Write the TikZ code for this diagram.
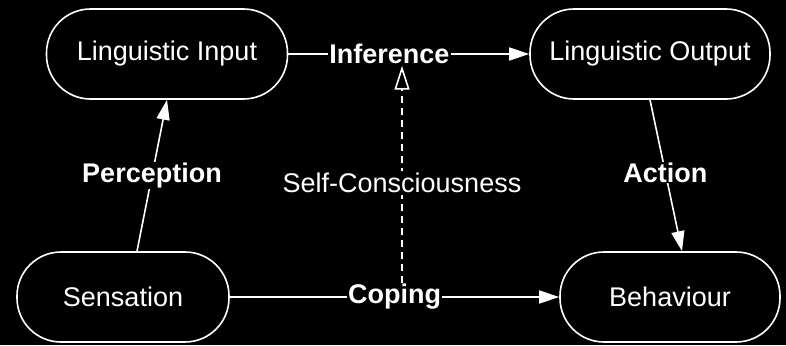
\documentclass[tikz,border=0pt]{standalone}
\usepackage{fontspec}
\setmainfont{Liberation Sans}
\usetikzlibrary{arrows.meta}

\begin{document}
\begin{tikzpicture}[x=1pt,y=-1pt,
  stadium/.style={draw=white,line width=1.6pt,rounded corners=44pt,minimum height=90pt,text=white,font=\fontsize{27}{32}\selectfont},
  edgelabel/.style={fill=black,text=white,inner sep=1pt,font=\fontsize{27}{32}\selectfont\bfseries},
  plainlabel/.style={fill=black,text=white,inner sep=2pt,font=\fontsize{27}{32}\selectfont},
  link/.style={draw=white,line width=1.6pt,-{Triangle[length=20pt,width=13pt]}}]
% Background
\useasboundingbox (0,0) rectangle (786,345);
\fill[black] (0,0) rectangle (786,345);
% States
\node[stadium,minimum width=241pt] (input) at (167,54) {Linguistic Input};
\node[stadium,minimum width=240pt] (output) at (650,54) {Linguistic Output};
\node[stadium,minimum width=212pt] (sensation) at (123,297) {Sensation};
\node[stadium,minimum width=220pt] (behaviour) at (670,297) {Behaviour};
% Transitions
\draw[link] (input) -- node[edgelabel,pos=0.42] (inference) {Inference} (output);
\draw[link] (sensation) -- node[edgelabel] (coping) {Coping} (behaviour);
\draw[link] ([xshift=14pt]sensation.north) -- node[edgelabel] (perception) {Perception} (input.south);
\draw[link] (output.south) -- node[edgelabel,pos=0.48] (action) {Action} ([xshift=12pt]behaviour.north);
% Self-consciousness
\coordinate (sc) at (402,0);
\draw[white,line width=1.6pt,dash pattern=on 7pt off 5pt,-{Triangle[open,length=24pt,width=15pt]}]
  (coping.north -| sc) -- node[plainlabel,pos=0.46] (self) {Self-Consciousness} (inference.south -| sc);
\end{tikzpicture}
\end{document}
